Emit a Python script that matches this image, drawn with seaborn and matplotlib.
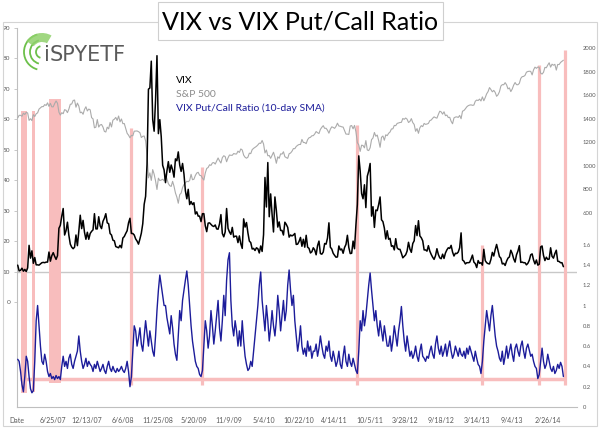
import matplotlib.pyplot as plt
from matplotlib.patches import Rectangle, Arc, Wedge
import seaborn as sns
import pandas as pd

# weekly (Friday) closes
vix_2007 = [12.1, 10.2, 10.4, 11.1, 10.1, 10.7, 10.0, 11.2, 18.6, 14.4, 16.8, 12.7, 14.6,
            12.2, 12.2, 12.1, 12.5, 12.9, 13.0, 12.9, 13.1, 13.1, 16.4, 13.4, 15.2, 16.2,
            15.0, 14.0, 15.2, 24.2, 25.2, 28.2, 30.7, 22.0, 23.4, 26.2, 21.9, 19.0, 18.0,
            17.5, 18.0, 22.0, 18.5, 23.2, 28.5, 24.1, 26.8, 22.9, 20.6, 22.9, 20.6, 22.5]
vix_2008 = [23.2, 23.7, 29.0, 24.0, 24.0, 28.0, 25.0, 24.1, 26.5, 27.5, 29.0, 26.0, 25.7,
            22.5, 22.0, 20.3, 20.1, 18.2, 18.0, 17.8, 18.6, 17.8, 21.0, 21.5, 22.5, 23.4,
            26.0, 27.5, 22.5, 22.5, 22.0, 20.7, 20.0, 19.0, 20.7, 22.6, 25.7, 32.1, 34.7,
            45.1, 69.9, 70.3, 79.1, 59.9, 56.1, 66.3, 80.9, 55.3, 59.9, 54.3, 44.9, 43.4]
vix_2009 = [39.2, 43.0, 46.1, 42.6, 45.0, 43.4, 41.0, 47.0, 46.4, 49.3, 45.0, 42.9, 45.5,
            42.0, 36.5, 33.9, 37.0, 32.0, 33.0, 32.0, 32.6, 28.9, 29.6, 28.2, 28.2, 26.4,
            29.0, 29.0, 25.0, 23.1, 25.9, 26.0, 25.5, 25.0, 24.8, 25.3, 24.0, 23.9, 25.6,
            28.7, 22.5, 21.4, 23.0, 30.7, 24.2, 23.0, 22.2, 24.5, 21.3, 21.6, 21.6, 19.5]
vix_2010 = [21.7, 19.1, 17.6, 27.3, 24.6, 26.1, 22.7, 20.0, 19.5, 17.4, 17.6, 16.9, 17.8,
            17.5, 16.1, 18.4, 16.6, 22.1, 40.9, 31.2, 45.8, 28.0, 35.5, 28.8, 23.0, 34.5,
            30.1, 24.6, 26.3, 23.5, 23.5, 22.0, 26.2, 25.5, 24.5, 21.3, 22.0, 21.7, 22.0,
            22.5, 18.9, 19.0, 19.9, 21.2, 18.3, 20.6, 18.0, 21.9, 18.0, 17.6, 16.1, 16.5, 17.8]
vix_2011 = [17.1, 15.5, 18.5, 20.0, 15.9, 15.7, 16.4, 19.2, 19.0, 21.0, 26.0, 18.0, 17.4,
            16.0, 15.3, 14.7, 14.8, 18.4, 17.1, 17.4, 16.0, 17.9, 18.9, 21.9, 17.9, 15.9,
            16.0, 20.0, 17.5, 25.3, 32.0, 48.0, 43.0, 35.6, 33.9, 38.5, 31.0, 41.3, 43.0,
            45.5, 28.2, 31.3, 24.5, 30.2, 30.0, 32.0, 34.5, 27.0, 26.4, 24.3, 20.7, 23.4]
vix_2012 = [20.6, 20.9, 18.3, 18.5, 17.1, 20.8, 17.8, 17.3, 17.3, 16.0, 14.5, 15.0, 15.5,
            16.7, 19.6, 17.4, 16.3, 19.2, 20.1, 25.1, 21.8, 26.7, 21.7, 21.1, 20.1, 17.1,
            17.1, 16.7, 18.5, 16.7, 15.6, 14.7, 14.0, 15.2, 17.5, 15.6, 14.5, 14.2, 15.7,
            14.3, 16.1, 17.1, 17.8, 17.6, 18.6, 16.4, 15.1, 16.0, 15.9, 16.4, 17.8, 22.7]
vix_2013 = [13.8, 13.4, 12.5, 12.9, 12.9, 13.0, 14.1, 15.4, 13.1, 12.6, 11.3, 13.6, 12.7,
            12.9, 12.1, 17.3, 13.6, 12.9, 12.6, 12.5, 14.0, 16.3, 15.1, 17.2, 18.9, 16.9,
            14.9, 14.4, 12.5, 12.7, 12.0, 13.4, 14.4, 14.8, 17.0, 15.9, 14.2, 13.1, 15.5,
            16.7, 18.5, 13.0, 13.1, 12.9, 12.9, 12.2, 12.7, 13.7, 15.5, 15.8, 13.8, 12.5]
vix_2014 = [13.8, 12.1, 12.4, 18.1, 18.4, 15.3, 13.6, 14.7, 14.0, 14.1, 17.8, 15.0, 14.4,
            15.9, 17.0, 13.4, 13.3, 12.9, 12.9, 11.6]

spx_2007 = [1409, 1431, 1431, 1423, 1449, 1438, 1456, 1451, 1388, 1402, 1386, 1437, 1421,
            1444, 1452, 1484, 1495, 1505, 1505, 1522, 1515, 1537, 1507, 1533, 1503, 1503,
            1531, 1553, 1534, 1458, 1433, 1453, 1445, 1479, 1474, 1454, 1484, 1525, 1527,
            1557, 1561, 1500, 1535, 1510, 1453, 1458, 1440, 1481, 1504, 1468, 1484, 1478]
spx_2008 = [1411, 1401, 1325, 1330, 1395, 1331, 1349, 1353, 1331, 1294, 1289, 1330, 1316,
            1370, 1332, 1390, 1398, 1413, 1388, 1425, 1375, 1400, 1360, 1361, 1318, 1278,
            1262, 1240, 1260, 1257, 1296, 1297, 1298, 1292, 1283, 1242, 1252, 1255, 1213,
            1099, 899, 941, 877, 969, 930, 873, 800, 896, 876, 880, 887, 873]
spx_2009 = [931, 890, 850, 832, 826, 869, 827, 770, 735, 683, 756, 769, 816,
            843, 857, 870, 866, 877, 929, 883, 887, 919, 940, 946, 921, 918,
            896, 880, 940, 979, 987, 1010, 1005, 1026, 1029, 1016, 1042, 1068, 1044,
            1025, 1071, 1087, 1080, 1036, 1069, 1093, 1091, 1091, 1106, 1102, 1102, 1126]
spx_2010 = [1115, 1145, 1136, 1092, 1074, 1066, 1075, 1109, 1105, 1139, 1150, 1159, 1167,
            1179, 1194, 1192, 1217, 1187, 1111, 1136, 1087, 1089, 1065, 1092, 1117, 1076,
            1023, 1078, 1065, 1103, 1101, 1121, 1079, 1071, 1065, 1104, 1110, 1125, 1148,
            1147, 1166, 1176, 1183, 1183, 1226, 1200, 1199, 1190, 1224, 1240, 1244, 1257, 1258]
spx_2011 = [1272, 1293, 1283, 1276, 1311, 1329, 1343, 1320, 1321, 1304, 1279, 1313, 1333,
            1328, 1320, 1337, 1364, 1340, 1338, 1333, 1331, 1300, 1271, 1271, 1268, 1340,
            1344, 1316, 1345, 1292, 1199, 1179, 1124, 1177, 1174, 1154, 1216, 1136, 1131,
            1155, 1224, 1238, 1285, 1253, 1263, 1216, 1159, 1244, 1255, 1219, 1265, 1258]
spx_2012 = [1278, 1289, 1315, 1316, 1345, 1343, 1362, 1366, 1370, 1371, 1404, 1397, 1408,
            1398, 1370, 1379, 1403, 1369, 1353, 1295, 1318, 1278, 1325, 1343, 1335, 1362,
            1354, 1357, 1362, 1386, 1391, 1406, 1418, 1411, 1407, 1438, 1466, 1460, 1441,
            1461, 1428, 1433, 1412, 1414, 1380, 1359, 1409, 1416, 1418, 1413, 1430, 1402]
spx_2013 = [1466, 1472, 1486, 1503, 1513, 1518, 1520, 1516, 1518, 1551, 1561, 1557, 1569,
            1553, 1588, 1555, 1582, 1614, 1633, 1667, 1650, 1631, 1643, 1626, 1593, 1606,
            1632, 1680, 1692, 1691, 1709, 1691, 1656, 1664, 1633, 1655, 1688, 1710, 1692,
            1691, 1703, 1745, 1760, 1762, 1771, 1798, 1804, 1806, 1805, 1775, 1818, 1841]
spx_2014 = [1831, 1842, 1839, 1790, 1782, 1797, 1839, 1836, 1859, 1878, 1841, 1866, 1857,
            1865, 1816, 1864, 1863, 1881, 1890, 1900]

pcr_2007 = [0.47, 0.45, 0.35, 0.22, 0.15, 0.30, 0.50, 0.45, 0.30, 0.18, 0.14, 0.16, 0.45,
            0.85, 1.00, 0.80, 0.60, 0.45, 0.42, 0.52, 0.45, 0.35, 0.30, 0.33, 0.28, 0.30,
            0.27, 0.31, 0.28, 0.30, 0.27, 0.40, 0.50, 0.40, 0.45, 0.38, 0.48, 0.52, 0.42,
            0.38, 0.45, 0.50, 0.55, 0.70, 0.55, 0.45, 0.38, 0.42, 0.48, 0.40, 0.45, 0.42]
pcr_2008 = [0.40, 0.35, 0.42, 0.38, 0.45, 0.40, 0.35, 0.38, 0.42, 0.36, 0.33, 0.40, 0.45,
            0.38, 0.35, 0.40, 0.36, 0.34, 0.38, 0.35, 0.37, 0.40, 0.36, 0.34, 0.38, 0.45,
            0.35, 0.20, 0.30, 0.55, 0.80, 0.75, 0.60, 0.68, 0.78, 0.62, 0.55, 0.70, 0.85,
            0.72, 0.60, 0.75, 0.65, 0.55, 0.50, 0.70, 0.95, 1.15, 1.30, 1.20, 1.10, 1.00]
pcr_2009 = [1.00, 0.88, 0.80, 0.72, 0.90, 0.78, 0.62, 0.52, 0.46, 0.70, 0.95, 0.85, 1.05,
            1.15, 1.25, 1.34, 1.20, 1.00, 0.80, 0.65, 0.55, 0.45, 0.40, 0.38, 0.32, 0.30,
            0.36, 0.60, 0.85, 0.75, 0.58, 0.70, 0.95, 0.80, 0.62, 0.75, 0.90, 1.05, 0.78,
            0.65, 0.85, 1.10, 0.90, 1.25, 1.45, 1.52, 1.05, 0.80, 0.70, 0.85, 0.75, 0.60]
pcr_2010 = [0.75, 0.60, 0.85, 0.65, 0.50, 0.42, 0.36, 0.38, 0.45, 0.40, 0.55, 0.70, 0.85,
            1.00, 1.20, 1.33, 1.05, 0.90, 0.75, 1.00, 0.85, 0.65, 0.78, 0.95, 0.80, 0.70,
            0.85, 1.10, 0.95, 0.75, 0.90, 1.05, 0.85, 0.95, 1.20, 1.35, 1.15, 1.00, 1.10,
            0.85, 0.70, 0.55, 0.65, 0.80, 0.60, 0.52, 0.58, 0.50, 0.65, 0.55, 0.60, 0.48, 0.55]
pcr_2011 = [0.55, 0.62, 0.50, 0.58, 0.70, 0.60, 0.52, 0.48, 0.60, 0.55, 0.65, 0.50, 0.45,
            0.55, 0.48, 0.40, 0.45, 0.55, 0.42, 0.38, 0.50, 0.60, 0.45, 0.40, 0.52, 0.44,
            0.40, 0.48, 0.42, 0.36, 0.33, 0.55, 0.85, 0.75, 0.95, 0.80, 0.90, 1.05, 1.20,
            1.32, 1.15, 1.00, 0.85, 0.95, 0.80, 0.70, 0.85, 0.75, 0.65, 0.80, 0.70, 0.60]
pcr_2012 = [0.60, 0.70, 0.55, 0.65, 0.80, 0.70, 0.60, 0.75, 0.85, 0.99, 0.80, 0.65, 0.55,
            0.70, 0.60, 0.50, 0.55, 0.48, 0.52, 0.60, 0.50, 0.45, 0.55, 0.62, 0.50, 0.48,
            0.45, 0.50, 0.48, 0.55, 0.60, 0.52, 0.48, 0.62, 0.70, 0.58, 0.52, 0.60, 0.50,
            0.55, 0.62, 0.50, 0.58, 0.65, 0.55, 0.48, 0.52, 0.60, 0.55, 0.50, 0.58, 0.52]
pcr_2013 = [0.50, 0.55, 0.48, 0.58, 0.52, 0.60, 0.55, 0.50, 0.45, 0.55, 0.48, 0.42, 0.40,
            0.33, 0.45, 0.65, 0.80, 0.95, 0.85, 0.75, 0.90, 1.00, 0.85, 0.70, 0.60, 0.55,
            0.48, 0.45, 0.55, 0.42, 0.50, 0.60, 0.48, 0.55, 0.62, 0.52, 0.45, 0.58, 0.62,
            0.55, 0.50, 0.60, 0.65, 0.55, 0.48, 0.58, 0.62, 0.56, 0.50, 0.52, 0.45, 0.40]
pcr_2014 = [0.38, 0.28, 0.32, 0.45, 0.58, 0.45, 0.38, 0.42, 0.52, 0.45, 0.38, 0.35, 0.40,
            0.33, 0.36, 0.42, 0.38, 0.44, 0.40, 0.30]

vix = vix_2007 + vix_2008 + vix_2009 + vix_2010 + vix_2011 + vix_2012 + vix_2013 + vix_2014
spx = spx_2007 + spx_2008 + spx_2009 + spx_2010 + spx_2011 + spx_2012 + spx_2013 + spx_2014
pcr = pcr_2007 + pcr_2008 + pcr_2009 + pcr_2010 + pcr_2011 + pcr_2012 + pcr_2013 + pcr_2014

tick_dates = ['2007-01-03', '2007-06-25', '2007-12-13', '2008-06-06', '2008-11-25',
              '2009-05-20', '2009-11-09', '2010-05-04', '2010-10-22', '2011-04-14',
              '2011-10-05', '2012-03-28', '2012-09-18', '2013-03-14', '2013-09-04',
              '2014-02-26']
tick_labels = ['Date', '6/25/07', '12/13/07', '6/6/08', '11/25/08', '5/20/09', '11/9/09',
               '5/4/10', '10/22/10', '4/14/11', '10/5/11', '3/28/12', '9/18/12',
               '3/14/13', '9/4/13', '2/26/14']

# highlighted spans: start, end, top (VIX scale), bottom (VIX scale)
wide_bands = [('2007-01-21', '2007-02-20', 62.7, -29.9),
              ('2007-03-15', '2007-04-02', 62.7, -29.6),
              ('2007-06-08', '2007-08-06', 66.7, -26.6)]
# single marker lines: date, top (VIX scale)
marker_dates = ['2008-07-16', '2009-06-30', '2011-08-01', '2013-04-08', '2014-01-14', '2014-05-22']
marker_tops = [57.2, 44.3, 58.1, 18.7, 77.9, 82.8]
marker_bottom = -27.3
pcr_floor = 0.276

sns.set_style('white')
plt.rcParams['font.family'] = ['Lato', 'DejaVu Sans']

weeks = pd.date_range('2007-01-05', periods=len(vix), freq='W-FRI')
band_color = '#f8bdbd'
grey = '#595959'

fig = plt.figure(figsize=(6, 4.28), dpi=100)
ax = fig.add_axes([17.3 / 600, 21 / 428, 559.7 / 600, 379 / 428])
ax_spx = ax.twinx()
ax_vix = ax.twinx()
ax_pcr = ax.twinx()

# pink highlight bands and lines
for start, end, top, bottom in wide_bands:
    s, e = pd.Timestamp(start), pd.Timestamp(end)
    ax.fill_between([s, e], bottom, top, color=band_color, lw=0, zorder=1)
ax.vlines(pd.to_datetime(marker_dates), marker_bottom, marker_tops,
          color=band_color, lw=2.3, zorder=1)
ax.axhline(10, color='#c8c8c8', lw=1, zorder=0)

sns.lineplot(x=weeks, y=spx, ax=ax_spx, color='#ababab', lw=0.8)
sns.lineplot(x=weeks, y=vix, ax=ax_vix, color='black', lw=1.1)
ax_pcr.hlines(pcr_floor, pd.Timestamp('2007-01-15'), pd.Timestamp('2014-05-22'),
              color=band_color, lw=2.5, zorder=1)
sns.lineplot(x=weeks, y=pcr, ax=ax_pcr, color='#1c1c9a', lw=1.0, zorder=2)

ax.set_xlim(pd.Timestamp('2007-01-03'), pd.Timestamp('2014-07-22'))
ax.set_ylim(-34.5, 90)
ax_vix.set_ylim(-34.5, 90)
ax_spx.set_ylim(-1051, 2174)
ax_pcr.set_ylim(0, 3.734)

ax.set_yticks(range(0, 91, 10))
ax.set_xticks(pd.to_datetime(tick_dates))
ax.set_xticklabels(tick_labels)
ax.tick_params(axis='both', labelsize=4.6, colors='#bfbfbf', labelcolor=grey, length=2, width=0.6)
ax.tick_params(axis='x', pad=5, labelsize=5)
ax.tick_params(axis='y', pad=3)

ax_spx.set_yticks(range(600, 2001, 200))
pcr_ticks = [0, 0.2, 0.4, 0.6, 0.8, 1.0, 1.2, 1.4, 1.6]
ax_pcr.set_yticks(pcr_ticks)
ax_pcr.set_yticklabels(['0', '0.2', '0.4', '0.6', '0.8', '1', '1.2', '1.4', '1.6'])
for a in (ax_spx, ax_pcr):
    a.tick_params(axis='y', labelsize=4.2, labelcolor=grey, length=0, pad=4)
ax_vix.set_yticks([])

for a in (ax, ax_spx, ax_vix, ax_pcr):
    a.set_xlabel('')
    a.set_ylabel('')
    for side in ('top', 'right'):
        a.spines[side].set_visible(False)
for a in (ax_spx, ax_vix, ax_pcr):
    a.spines['left'].set_visible(False)
    a.spines['bottom'].set_visible(False)
for side in ('left', 'bottom'):
    ax.spines[side].set_color('#bfbfbf')
    ax.spines[side].set_linewidth(0.8)

# overlay in pixel units for frame, title box, logo and legend text
over = fig.add_axes([0, 0, 1, 1])
over.set_xlim(0, 600)
over.set_ylim(428, 0)
over.axis('off')
over.add_patch(Rectangle((3, 22), 594, 404, fill=False, ec='#d4d4d4', lw=0.8))
over.add_patch(Rectangle((158, 2), 285, 38, fc='white', ec='#cfcfcf', lw=0.8))
over.text(300, 22, 'VIX vs VIX Put/Call Ratio', fontsize=18, ha='center', va='center',
          color='black')

# logo
logo_green = '#6cc04a'
for r in (6, 12, 18):
    over.add_patch(Arc((42, 52), 2 * r, 2 * r, theta1=105, theta2=255, color=logo_green, lw=1.3))
over.add_patch(Wedge((42, 52), 19, 215, 300, width=9, fc='#8fd16b', ec='none', alpha=0.85))
over.text(44, 55, 'i', fontsize=15, color='#5a5a5a', ha='left', va='center',
          family='DejaVu Sans')
over.text(50, 55, 'SPYETF', fontsize=15, color='#5a5a5a', ha='left', va='center',
          family='DejaVu Sans')

over.text(176, 80, 'VIX', fontsize=7.5, color='black', va='center')
over.text(176, 94, 'S&P 500', fontsize=7.5, color='#8c8c8c', va='center')
over.text(176, 108, 'VIX Put/Call Ratio (10-day SMA)', fontsize=7.5, color='#1c1c9a',
          va='center')

fig.savefig('out.png', dpi=100)
